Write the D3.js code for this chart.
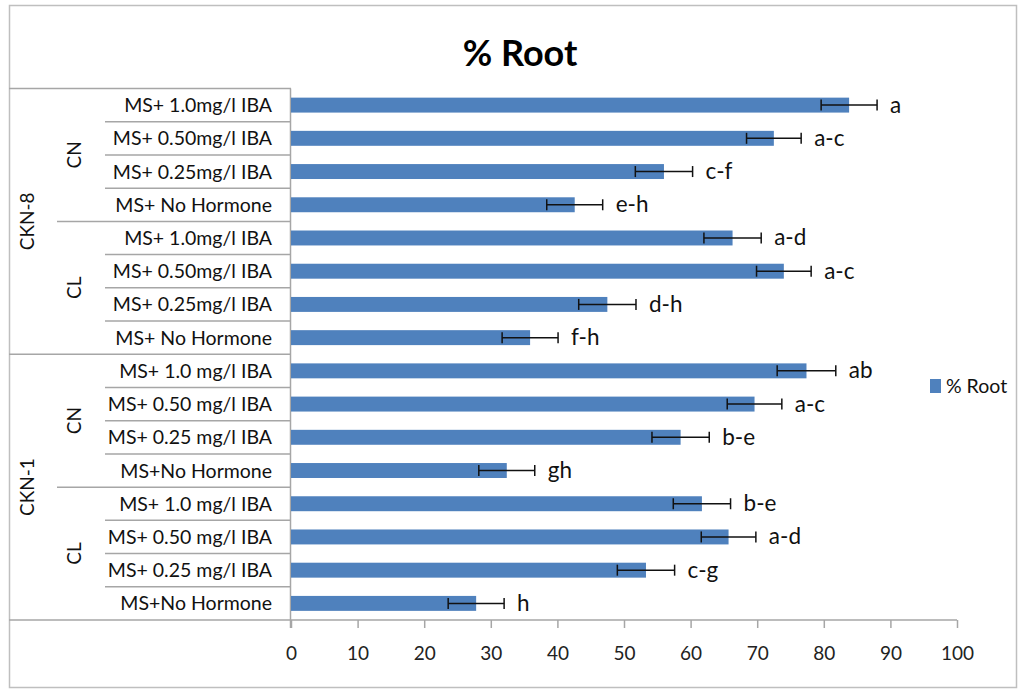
<!DOCTYPE html>
<html>
<head>
<meta charset="utf-8">
<script src="https://cdn.jsdelivr.net/npm/d3@7/dist/d3.min.js"></script>
<style>
  body { margin: 0; background: #fff; }
  svg { font-family: "Lato", "Open Sans", sans-serif; }
</style>
</head>
<body>
<svg width="1020" height="690"></svg>
<script>
// treatments, top to bottom
var labels = ["MS+ 1.0mg/l IBA", "MS+ 0.50mg/l IBA", "MS+ 0.25mg/l IBA", "MS+ No Hormone",
              "MS+ 1.0mg/l IBA", "MS+ 0.50mg/l IBA", "MS+ 0.25mg/l IBA", "MS+ No Hormone",
              "MS+ 1.0 mg/l IBA", "MS+ 0.50 mg/l IBA", "MS+ 0.25 mg/l IBA", "MS+No Hormone",
              "MS+ 1.0 mg/l IBA", "MS+ 0.50 mg/l IBA", "MS+ 0.25 mg/l IBA", "MS+No Hormone"];
var subgroups = ["CN", "CL", "CN", "CL"];
var groups = ["CKN-8", "CKN-1"];
var values = [83.8, 72.5, 56.0, 42.6, 66.3, 74.0, 47.5, 35.9, 77.4, 69.6, 58.5, 32.4, 61.7, 65.7, 53.3, 27.8];
var errors = [4.2, 4.1, 4.3, 4.2, 4.3, 4.1, 4.3, 4.2, 4.4, 4.1, 4.3, 4.2, 4.3, 4.1, 4.3, 4.2];
var letters = ["a", "a-c", "c-f", "e-h", "a-d", "a-c", "d-h", "f-h", "ab", "a-c", "b-e", "gh", "b-e", "a-d", "c-g", "h"];
var ticks = [0, 10, 20, 30, 40, 50, 60, 70, 80, 90, 100];

var svg = d3.select("svg");
var plotLeft = 291, plotRight = 957, plotTop = 88.5, plotBottom = 620;
var lineColor = "#a6a6a6";

// chart border
svg.append("rect")
  .attr("x", 9.5).attr("y", 5.5)
  .attr("width", 1007).attr("height", 682)
  .attr("fill", "none").attr("stroke", "#bfbfbf").attr("stroke-width", 1.5);

svg.append("text")
  .attr("x", 520).attr("y", 66)
  .attr("text-anchor", "middle")
  .attr("font-size", "36px").attr("font-weight", "bold")
  .text("% Root");

var x = d3.scaleLinear().domain([0, 100]).range([plotLeft, plotRight]);
var y = d3.scaleBand().domain(d3.range(labels.length)).range([plotTop, plotBottom])
  .paddingInner(0.55).paddingOuter(0.275);
var step = y.step();

// x axis
var xAxis = svg.append("g")
  .attr("transform", "translate(0," + plotBottom + ")")
  .call(d3.axisBottom(x).tickValues(ticks).tickSize(8).tickPadding(19));
xAxis.select(".domain").remove();
xAxis.selectAll("line").attr("stroke", lineColor).attr("stroke-width", 1.5);
xAxis.selectAll("text").attr("font-size", "19px").attr("fill", "#222")
  .attr("font-family", "Lato, sans-serif");

// category table lines
var lines = svg.append("g").attr("stroke", lineColor).attr("stroke-width", 1.5);
lines.append("line").attr("x1", 9).attr("x2", plotRight).attr("y1", plotBottom).attr("y2", plotBottom);
lines.append("line").attr("x1", plotLeft - 0.5).attr("x2", plotLeft - 0.5).attr("y1", plotTop).attr("y2", plotBottom + 8);
d3.range(labels.length).forEach(function(i) {
  var yy = plotTop + i * step;
  var x1 = 105;
  if (i % 8 == 0) x1 = 9;
  else if (i % 4 == 0) x1 = 57;
  lines.append("line").attr("x1", x1).attr("x2", plotLeft).attr("y1", yy).attr("y2", yy);
});

// bars
svg.selectAll(".bar")
  .data(values)
  .enter().append("rect")
  .attr("class", "bar")
  .attr("x", x(0))
  .attr("y", function(d, i) { return y(i); })
  .attr("width", function(d) { return x(d) - x(0); })
  .attr("height", y.bandwidth())
  .attr("fill", "#4f81bd");

// error bars
var eb = svg.append("g").attr("stroke", "#111").attr("stroke-width", 1.5);
values.forEach(function(d, i) {
  var cy = y(i) + y.bandwidth() / 2;
  eb.append("line").attr("x1", x(d - errors[i])).attr("x2", x(d + errors[i])).attr("y1", cy).attr("y2", cy);
  [d - errors[i], d + errors[i]].forEach(function(v) {
    eb.append("line").attr("x1", x(v)).attr("x2", x(v)).attr("y1", cy - 5.5).attr("y2", cy + 5.5);
  });
});

// significance letters
svg.selectAll(".letter")
  .data(letters)
  .enter().append("text")
  .attr("x", function(d, i) { return x(values[i] + errors[i]) + 13; })
  .attr("y", function(d, i) { return y(i) + y.bandwidth() / 2 + 7.5; })
  .attr("font-size", "22.5px").attr("fill", "#111")
  .text(function(d) { return d; });

// treatment labels
svg.selectAll(".cat")
  .data(labels)
  .enter().append("text")
  .attr("x", 272)
  .attr("y", function(d, i) { return y(i) + y.bandwidth() / 2 + 7; })
  .attr("text-anchor", "end")
  .attr("font-size", "19.5px").attr("fill", "#111")
  .text(function(d) { return d; });

// sub group labels
subgroups.forEach(function(s, j) {
  var cy = plotTop + (j * 4 + 2) * step;
  svg.append("text")
    .attr("transform", "translate(81," + cy + ") rotate(-90)")
    .attr("text-anchor", "middle")
    .attr("font-size", "19px").attr("fill", "#111")
    .text(s);
});
groups.forEach(function(g, j) {
  var cy = plotTop + (j * 8 + 4) * step;
  svg.append("text")
    .attr("transform", "translate(34," + cy + ") rotate(-90)")
    .attr("text-anchor", "middle")
    .attr("font-size", "19px").attr("fill", "#111")
    .text(g);
});

// legend
svg.append("rect").attr("x", 930).attr("y", 379).attr("width", 11).attr("height", 14).attr("fill", "#4f81bd");
svg.append("text").attr("x", 946).attr("y", 393).attr("font-size", "19.5px").attr("fill", "#111").text("% Root");
</script>
</body>
</html>
